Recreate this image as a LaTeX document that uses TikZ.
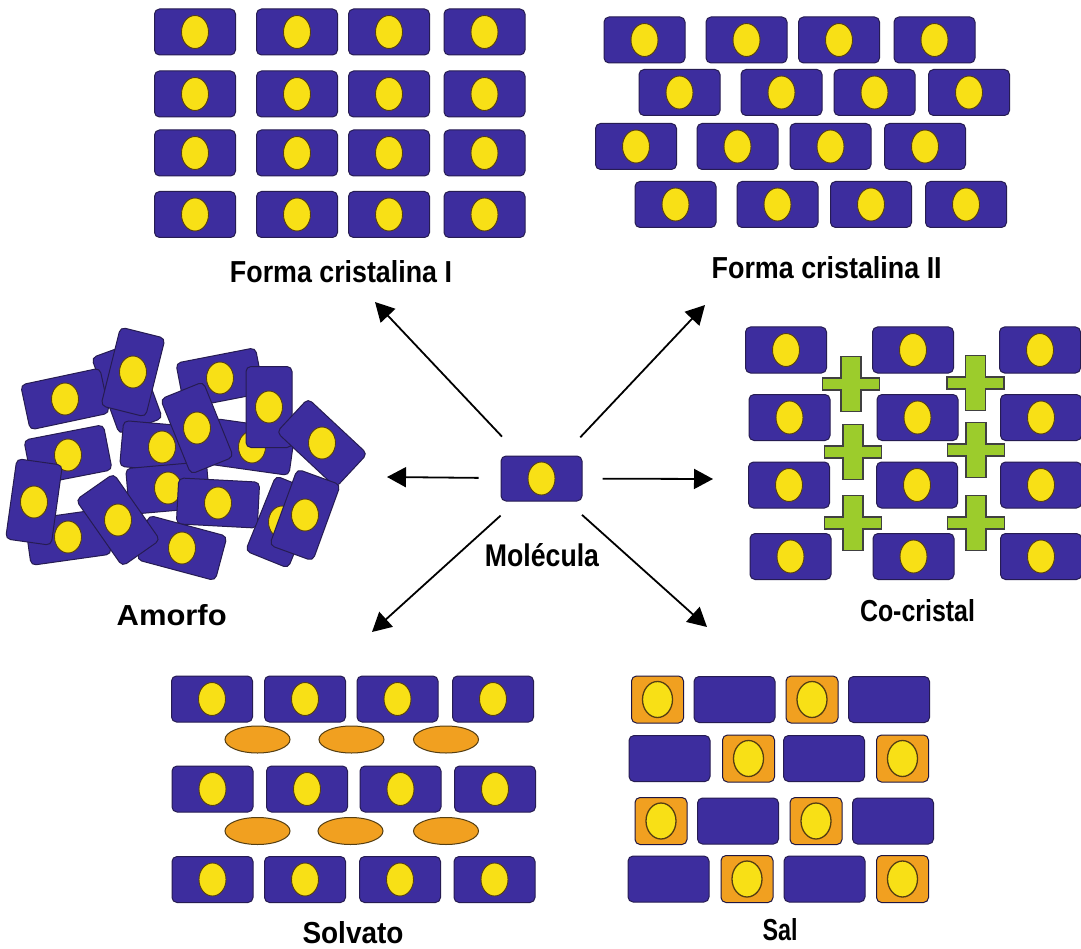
\documentclass[tikz,border=0pt]{standalone}
\usepackage{graphicx}
\usepackage{fontspec}
\setmainfont{Liberation Sans}
\usetikzlibrary{arrows.meta}

\definecolor{molblue}{RGB}{61,45,158}
\definecolor{moledge}{RGB}{38,28,82}
\definecolor{molyellow}{RGB}{248,224,22}
\definecolor{coreedge}{RGB}{85,62,18}
\definecolor{saltorange}{RGB}{241,160,32}
\definecolor{coformgreen}{RGB}{156,204,44}

\tikzset{
  molrect/.style={fill=molblue, draw=moledge, line width=1pt, rounded corners=5pt},
  molcore/.style={fill=molyellow, draw=coreedge, line width=0.9pt},
  saltbox/.style={fill=saltorange, draw=moledge!80!black, line width=1pt, rounded corners=5pt},
  saltcore/.style={fill=molyellow, draw=coreedge, line width=1.3pt},
  solvfill/.style={fill=saltorange, draw=coreedge, line width=1pt},
  crossfill/.style={fill=coformgreen, draw=black!75, line width=1.4pt},
  caption/.style={inner sep=0pt, font=\bfseries},
  reaction/.style={line width=1.8pt, -{Triangle[length=19pt,width=20pt]}},
  mol/.pic={
    \path[molrect] (-40.5,-23) rectangle (40.5,23);
    \path[molcore] (0,0) ellipse [x radius=13.5, y radius=16.5];
  },
  counterion/.pic={
    \path[molrect] (-40.5,-23) rectangle (40.5,23);
  },
  cation/.pic={
    \path[saltbox] (-26,-23.5) rectangle (26,23.5);
    \path[saltcore] (0,0) ellipse [x radius=15, y radius=18];
  },
  solvent/.pic={
    \path[solvfill] (0,0) ellipse [x radius=32.5, y radius=13.5];
  },
  coformer/.pic={
    \path[crossfill] (-10,-27.5) -- (10,-27.5) -- (10,-6) -- (28.5,-6) -- (28.5,6)
      -- (10,6) -- (10,27.5) -- (-10,27.5) -- (-10,6) -- (-28.5,6) -- (-28.5,-6)
      -- (-10,-6) -- cycle;
  },
}

\begin{document}
\begin{tikzpicture}[x=1pt, y=-1pt]
\useasboundingbox[fill=white] (0,0) rectangle (1081,949);

% Forma cristalina I: square lattice
\foreach \x in {195,297,389,484.5}
  \foreach \y in {32,94,153,214.5}
    \pic at (\x,\y) {mol};

% Forma cristalina II: staggered rows
\foreach \x/\y in {644.5/40, 746.5/40, 839/40, 934.5/40,
                   679.5/92.5, 781.5/92.5, 874.5/92.5, 969/92.5,
                   636/146.5, 737.5/146.5, 830.5/146.5, 925/146.5,
                   675.5/204.5, 777.5/204.5, 871/204.5, 966/204.5}
  \pic at (\x,\y) {mol};

% Co-cristal: molecules and co-formers
\foreach \x/\y in {786/350, 913/350, 1040/350,
                   789.5/417.5, 917.5/417.5, 1041/417.5,
                   789/485, 917/485, 1041/485,
                   790.5/556.5, 913.5/556.5, 1041/556.5}
  \pic at (\x,\y) {mol};
\foreach \x/\y in {851/384, 975.5/383, 853/452, 976/450, 853/523, 976/523}
  \pic at (\x,\y) {coformer};

% Amorfo: random packing, back to front (cores keep their upright shape)
\foreach \x/\y/\a in {127/388/110, 65/399/12, 133/372/76, 220/378/11,
                      68/455/11, 162/447/-5, 168/488/5, 252/447/-8,
                      197/428/112, 269/407/90, 322/443/-43,
                      68/537/8, 34/502/82, 218/503/-3, 182/548/-15,
                      118/520/-55, 282/522/68, 305/515/70}
{
  \pic[rotate=\a] at (\x,\y) {counterion};
  \path[molcore] (\x,\y) ellipse [x radius=13.5, y radius=16];
}

% Solvato: molecular layers with solvent between them
\foreach \x/\y in {212/699, 305/699, 397.5/699, 493/699,
                   212.5/789, 307/789, 400.5/789, 495/789,
                   212.5/879.5, 305/879.5, 400/879.5, 494.5/879.5}
  \pic at (\x,\y) {mol};
\foreach \x/\y in {257.5/739.5, 351.5/739.5, 446/739.5,
                   257.5/831, 350.5/831, 446/831}
  \pic at (\x,\y) {solvent};

% Sal: alternating ions
\foreach \x/\y in {657.5/699.5, 812/699.5, 748.5/758.5, 902.5/758.5,
                   661/821, 816/821, 747/879, 902.5/879}
  \pic at (\x,\y) {cation};
\foreach \x/\y in {734.5/699.5, 889/699.5, 669.5/758.5, 824/758.5,
                   738/821, 893/821, 668.5/879, 824.5/879}
  \pic at (\x,\y) {counterion};

% central molecule
\node[molrect, minimum width=81pt, minimum height=45pt, inner sep=0pt] (mol) at (541.5,478.5) {};
\path[molcore] (mol.center) ellipse [x radius=13.5, y radius=16.5];

% captions
\node[caption] (formaI)   at (341,271.7)  {\resizebox{222pt}{22pt}{Forma cristalina I}};
\node[caption] (formaII)  at (826.7,267.5){\resizebox{230pt}{22pt}{Forma cristalina II}};
\node[caption] (cocrist)  at (917.5,610.8){\resizebox{115pt}{22pt}{Co-cristal}};
\node[caption] (amorfo)   at (171.7,615.5){\resizebox{110pt}{21pt}{Amorfo}};
\node[caption] (solvato)  at (353,933)    {\resizebox{101pt}{22pt}{Solvato}};
\node[caption] (sal)      at (780,930)    {\resizebox{35pt}{22pt}{Sal}};
\node[caption] (molecula) at (542,555)    {\resizebox{114pt}{23pt}{Molécula}};

% arrow tips
\coordinate (tipUL) at (375,302);
\coordinate (tipUR) at (705,305);
\coordinate (tipL)  at (387,477);
\coordinate (tipR)  at (713,479);
\coordinate (tipDL) at (372,632);
\coordinate (tipDR) at (707,627);

\draw[reaction, shorten <=26pt] (mol) -- (tipUL);
\draw[reaction, shorten <=25pt] (mol) -- (tipUR);
\draw[reaction, shorten <=22pt] (mol) -- (tipL);
\draw[reaction, shorten <=20pt] (mol) -- (tipR);
\draw[reaction, shorten <=21pt] (mol) -- (tipDL);
\draw[reaction, shorten <=20pt] (mol) -- (tipDR);
\end{tikzpicture}
\end{document}
